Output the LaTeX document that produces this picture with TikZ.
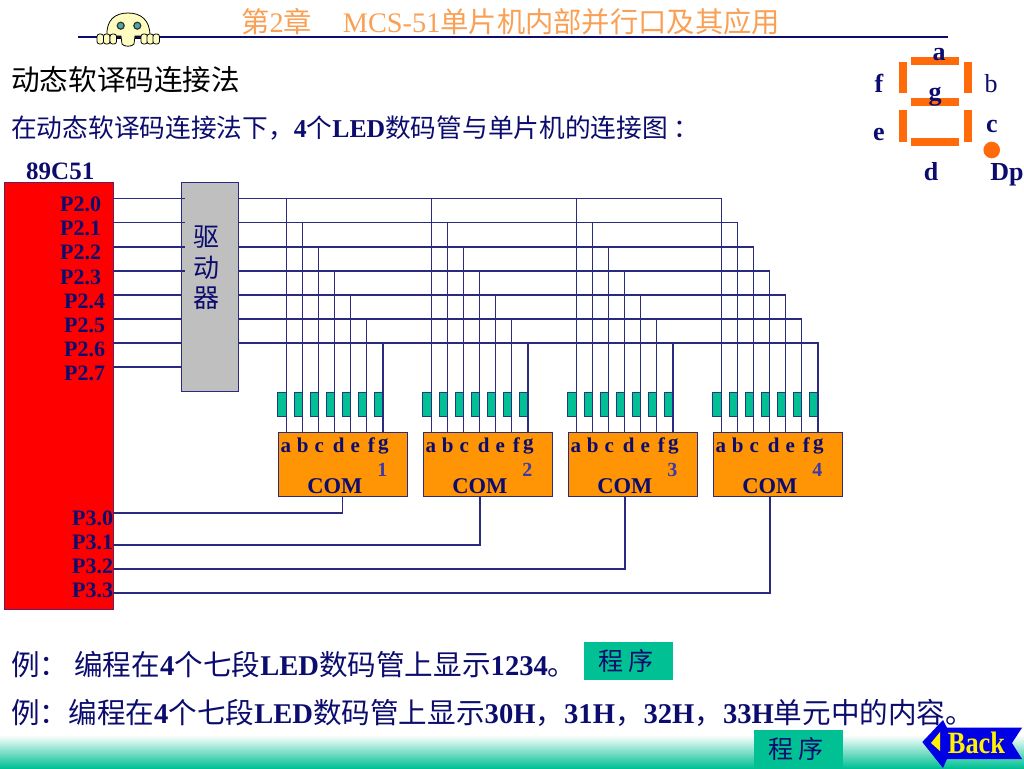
\documentclass[tikz,border=0pt]{standalone}
\usepackage{fontspec}
\setmainfont{Liberation Serif}
\newfontfamily\cjk{Noto Sans CJK SC}
\usepackage{xcolor}
\usetikzlibrary{calc}
\definecolor{navy}{HTML}{0C0C6E}
\definecolor{wirec}{HTML}{2A2A80}
\definecolor{segc}{HTML}{FF6A0A}
\definecolor{ledc}{HTML}{FF9405}
\definecolor{resc}{HTML}{00C094}
\definecolor{titlec}{HTML}{F9A055}
\definecolor{numc}{HTML}{3A3AA8}

\begin{document}
\begin{tikzpicture}[x=1pt, y=-1pt, every node/.style={inner sep=0pt},
	txt/.style={anchor=base west, text=navy, font=\fontsize{#1}{#1}\selectfont},
	mid/.style={anchor=center, text=navy, font=\fontsize{#1}{#1}\selectfont\bfseries},
	wire/.style={draw=wirec, line width=1.2pt},
	ledbox/.style={draw=wirec, fill=ledc, minimum width=129.5pt, minimum height=64.5pt},
	resbox/.style={draw=wirec!80!teal, fill=resc, anchor=east, minimum width=8.5pt, minimum height=24.5pt},
	segbar/.style={fill=segc, draw=none},
	gobox/.style={fill=resc, minimum width=89pt, minimum height=38pt, text=navy, align=center,
		font=\fontsize{25}{25}\selectfont\cjk}]

	\useasboundingbox (0,0) rectangle (1024,768);

	% bottom band
	\shade[top color=white, bottom color=resc] (0,735) rectangle (1024,768);

	% title
	\draw[draw=navy, line width=2.5pt] (78,37) -- (948,37);
	\node[txt=28.3, text=titlec] (Title) at (241,33)
		{{\cjk 第}2{\cjk 章}\hspace{31pt}MCS-51{\cjk 单片机内部并行口及其应用}};

	% mascot
	\draw[fill=yellow!25, line width=.8pt] (107,36) .. controls (106,20) and (115,13) .. (128,13)
		.. controls (141,13) and (150,20) .. (150,36) -- (135,36) -- (134,44)
		.. controls (132,47) and (124,47) .. (122,44) -- (121,36) -- cycle;
	\foreach \fx in {97,103.5,110, 141,147,153}
		\draw[fill=yellow!25, line width=.8pt, rounded corners=2.5pt] (\fx,34) rectangle ++(6.5,10);
	\draw[line width=.8pt] (116,38) -- (121,38) (135,38) -- (141,38);
	\foreach \ex in {120.7,137.3}
		\draw[fill=teal!70, draw=black!80, line width=1.2pt] (\ex,25.7) circle (3.5);

	% headings
	\node[txt=28.6, text=black] (Head) at (11,90) {\cjk 动态软译码连接法};
	\node[txt=25.7] (Intro) at (11,137)
		{{\cjk 在动态软译码连接法下，}\textbf{4}{\cjk 个}\textbf{LED}{\cjk 数码管与单片机的连接图 ：}};

	% seven segment key
	\fill[segbar] (911,57.3) rectangle (959,65.3);
	\fill[segbar] (911,97.7) rectangle (959,105.7);
	\fill[segbar] (911,137.7) rectangle (959,146);
	\fill[segbar] (899,61.7) rectangle (907.3,93.3);
	\fill[segbar] (963.7,61.7) rectangle (972,93.3);
	\fill[segbar] (899,110) rectangle (907.3,141.7);
	\fill[segbar] (963.7,110) rectangle (972,141.7);
	\fill[segbar] (991.7,150) circle (8.3);
	\node[mid=26] (Ka) at (939,55) {a};
	\node[mid=26] (Kg) at (935,97) {g};
	\node[mid=26] (Kf) at (879,83) {f};
	\node[mid=26] (Ke) at (879,135) {e};
	\node[mid=26] (Kc) at (992,126) {c};
	\node[mid=26] (Kd) at (931,172) {d};
	\node[mid=26] (Kp) at (1007,175) {Dp};
	\node[mid=26, font=\fontsize{26}{26}\selectfont] (Kb) at (991,84) {b};

	% chip and driver
	\node[draw=wirec!70!red, fill=red, minimum width=109pt, minimum height=427pt] (MCU) at (58.5,395.5) {};
	\node[txt=25, font=\fontsize{25}{25}\selectfont\bfseries] (Chip) at (26,179) {89C51};
	\node[draw=wirec, fill=gray!50, minimum width=57pt, minimum height=209pt] (DRV) at (209.5,286.5) {};
	\node[anchor=center, text=navy, align=center, font=\fontsize{26}{30.5}\selectfont\cjk] (DrvText) at (206,268) {驱\\动\\器};

	% port labels
	\foreach \n/\x/\y in {0/60/211,1/60/235,2/60/259,3/60/284,4/64/308,5/64/332,6/64/356,7/64/380}
		\node[txt=22, font=\fontsize{22}{22}\selectfont\bfseries] (PA\n) at (\x,\y) {P2.\n};
	\foreach \n/\y in {0/525,1/549,2/573,3/597}
		\node[txt=22, font=\fontsize{22}{22}\selectfont\bfseries] (PB\n) at (72,\y) {P3.\n};

	% four displays
	\node[ledbox] (LED1) at (342.75,464.25) {};
	\node[ledbox] (LED2) [right of=LED1, node distance=145pt] {};
	\node[ledbox] (LED3) [right of=LED2, node distance=145pt] {};
	\node[ledbox] (LED4) [right of=LED3, node distance=145pt] {};

	\foreach \d in {1,2,3,4} {
		\foreach \lab/\off/\ly in {a/-57/452,b/-40/452,c/-23.5/452,d/-4/452,e/12.5/452,f/28.5/452,g/40.5/449} 
			\node[anchor=base, text=navy, font=\fontsize{21}{21}\selectfont\bfseries] (T\d\lab) at ($(LED\d.center |- 0,\ly) + (\off,0)$) {\lab};
		\node[anchor=center, text=numc, font=\fontsize{20}{20}\selectfont\bfseries] (N\d) at ($(LED\d.center) + (39.5,6)$) {\d};
		\node[anchor=center, text=navy, font=\fontsize{22.5}{22.5}\selectfont\bfseries] (COM\d) at ($(LED\d.center) + (-8,22)$) {COM};
		\foreach \s in {1,...,7}
			\node[resbox] (R\d\s) at ($(LED\d.west |- 0,404) + ({8.5+16.1*(\s-1)},0)$) {};
	}

	% driver inputs
	\foreach \n/\y/\e in {1/198.5/4,2/222.5/4,3/247/4,4/271/4,5/295/0,6/319/0,7/343/0,8/367/0} {
		\coordinate (I\n) at (MCU.east |- 0,\y);
		\draw[wire] (I\n) -- ($(DRV.west |- 0,\y) + (\e,0)$);
	}

	% driver outputs
	\foreach \s/\y in {1/198.5,2/222.5,3/247,4/271,5/295,6/319,7/343} {
		\coordinate (O\s) at (DRV.east |- 0,\y);
		\draw[wire] (O\s) -| (R4\s.east) -- (LED4.north -| R4\s.east);
		\foreach \d in {1,2,3}
			\draw[wire] (O\s -| R\d\s.east) -- (LED\d.north -| R\d\s.east);
	}

	% digit select lines
	\foreach \d/\x/\y in {1/342.5/513,2/480/545,3/625/569,4/770/593} {
		\coordinate (S\d) at (MCU.east |- 0,\y);
		\draw[wire] (LED\d.south -| \x,0) |- (S\d);
	}

	% examples
	\node[txt=28.6] (Ex1) at (11,675)
		{{\cjk 例：}\hspace{6pt}{\cjk 编程在}\textbf{4}{\cjk 个七段}\textbf{LED}{\cjk 数码管上显示}\textbf{1234}{\cjk 。}};
	\node[gobox] (Go1) at (628.5,661) {程 序\hspace{5pt}};
	\node[txt=28.6] (Ex2) at (11,723)
		{{\cjk 例：编程在}\textbf{4}{\cjk 个七段}\textbf{LED}{\cjk 数码管上显示}\textbf{30H}{\cjk ，}\textbf{31H}{\cjk ，}\textbf{32H}{\cjk ，}\textbf{33H}{\cjk 单元中的内容。}};
	\node[gobox] (Go2) at (798.5,749) {程 序\hspace{5pt}};

	% back button
	\fill[blue!90!black] (922.3,742) -- (943,720) -- (947,727.7) -- (1022,727.7) -- (1012,743)
		-- (1022,759) -- (947,759) -- (943,768) -- cycle;
	\fill[yellow] (931,743) -- (940,732) -- (940,751) -- cycle;
	\node[anchor=center, text=yellow, xscale=.85, font=\fontsize{31}{31}\selectfont\bfseries] (Back) at (976.5,743) {Back};
\end{tikzpicture}
\end{document}
